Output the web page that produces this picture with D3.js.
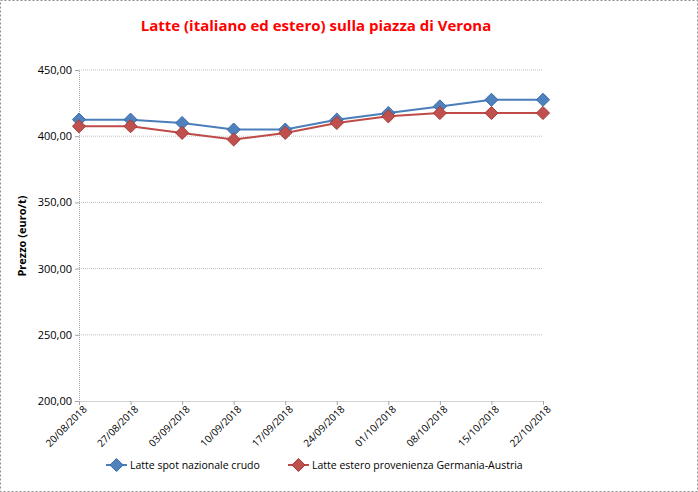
<!DOCTYPE html>
<html>
<head>
<meta charset="utf-8">
<script src="https://cdn.jsdelivr.net/npm/d3@7"></script>
<style>
body { margin: 0; background: #fff; }
svg text { font-family: "Open Sans", "Liberation Sans", sans-serif; }
</style>
</head>
<body>
<div id="chart"></div>
<script>
const dates = ["20/08/2018", "27/08/2018", "03/09/2018", "10/09/2018", "17/09/2018",
    "24/09/2018", "01/10/2018", "08/10/2018", "15/10/2018", "22/10/2018"];
const nazionale = [412.5, 412.5, 410, 405, 405, 412.5, 417.5, 422.5, 427.5, 427.5];
const estero = [407.5, 407.5, 402.5, 397.5, 402.5, 410, 415, 417.5, 417.5, 417.5];
const yTicks = [200, 250, 300, 350, 400, 450];

const series = [
    { name: "Latte spot nazionale crudo", values: nazionale, color: "#4a7ebb", fill: "#4f81bd", stroke: "#3a6aa8" },
    { name: "Latte estero provenienza Germania-Austria", values: estero, color: "#be4b48", fill: "#c0504d", stroke: "#a23d3a" }
];

const W = 698, H = 492;
const svg = d3.select("#chart").append("svg")
    .attr("width", W)
    .attr("height", H);

// cornice tratteggiata
svg.append("rect")
    .attr("x", 0.5).attr("y", 0.5)
    .attr("width", W - 1).attr("height", H - 1)
    .attr("fill", "#fff")
    .attr("stroke", "#8c8c8c")
    .attr("stroke-dasharray", "2,2");

const x = d3.scalePoint().domain(dates).range([79, 543]);
const y = d3.scaleLinear().domain([200, 450]).range([401, 70]);

// griglia
svg.append("g").selectAll("line")
    .data(yTicks.slice(1))
    .join("line")
    .attr("x1", 79).attr("x2", 543)
    .attr("y1", d => y(d)).attr("y2", d => y(d))
    .attr("stroke", "#bfbfbf")
    .attr("stroke-dasharray", "1,1");

// asse y
const yAxis = svg.append("g")
    .attr("transform", "translate(79,0)")
    .call(d3.axisLeft(y).tickValues(yTicks).tickSize(4)
        .tickFormat(d => d3.format(".2f")(d).replace(".", ",")));
yAxis.select(".domain").attr("stroke", "#a6a6a6").attr("stroke-dasharray", "1,1");
yAxis.selectAll(".tick line").attr("stroke", "#a6a6a6");
yAxis.selectAll(".tick text").attr("font-size", 11).attr("fill", "#000").attr("x", -7);

// asse x
const xAxis = svg.append("g")
    .attr("transform", "translate(0,401)")
    .call(d3.axisBottom(x).tickSize(4).tickSizeOuter(0));
xAxis.select(".domain").attr("stroke", "#a6a6a6").attr("stroke-dasharray", "1,1");
xAxis.selectAll(".tick line").attr("stroke", "#a6a6a6");
xAxis.selectAll(".tick text")
    .attr("font-size", 10)
    .attr("fill", "#000")
    .attr("text-anchor", "end")
    .attr("dy", 0)
    .attr("transform", "translate(3,4) rotate(-45)");

// linee
const line = d3.line()
    .x((d, i) => x(dates[i]))
    .y(d => y(d));

series.forEach(s => {
    svg.append("path")
        .datum(s.values)
        .attr("fill", "none")
        .attr("stroke", s.color)
        .attr("stroke-width", 2)
        .attr("d", line);
});

const diamond = d3.symbol().type(d3.symbolDiamond2).size(110);
series.forEach(s => {
    svg.append("g").selectAll("path")
        .data(s.values)
        .join("path")
        .attr("d", diamond)
        .attr("transform", (d, i) => `translate(${x(dates[i])},${y(d)})`)
        .attr("fill", s.fill)
        .attr("stroke", s.stroke)
        .attr("stroke-width", 1);
});

// titolo
svg.append("text")
    .attr("x", 316).attr("y", 31)
    .attr("text-anchor", "middle")
    .attr("font-size", 15)
    .attr("font-weight", "bold")
    .attr("fill", "#ff0000")
    .text("Latte (italiano ed estero) sulla piazza di Verona");

// titolo asse y
svg.append("text")
    .attr("transform", "translate(26,236) rotate(-90)")
    .attr("text-anchor", "middle")
    .attr("font-size", 11)
    .attr("font-weight", "bold")
    .text("Prezzo (euro/t)");

// legenda
const legX = [106, 288];
series.forEach((s, i) => {
    const g = svg.append("g").attr("transform", `translate(${legX[i]},465)`);
    g.append("line")
        .attr("x1", 0).attr("x2", 21)
        .attr("stroke", s.color)
        .attr("stroke-width", 2);
    g.append("path")
        .attr("d", diamond)
        .attr("transform", "translate(10.5,0)")
        .attr("fill", s.fill)
        .attr("stroke", s.stroke);
    g.append("text")
        .attr("x", 24).attr("y", 4)
        .attr("font-size", 10.5)
        .text(s.name);
});
</script>
</body>
</html>
